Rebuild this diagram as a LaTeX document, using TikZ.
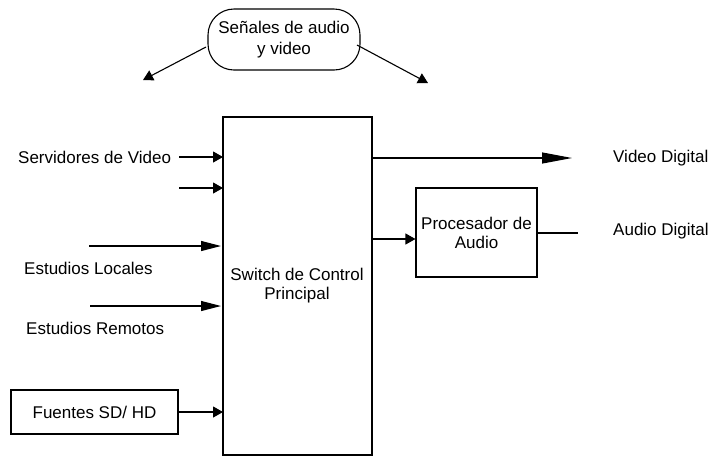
\documentclass[tikz,border=0pt]{standalone}
\usepackage{fontspec}
\setmainfont{Liberation Sans}
\usetikzlibrary{arrows.meta}
\begin{document}
\begin{tikzpicture}[x=1pt,y=-1pt,
  txt/.style={font=\fontsize{17}{19}\selectfont, inner sep=0pt, align=center},
  blk/.style={draw, line width=1.1pt, inner sep=0pt, font=\fontsize{17}{19}\selectfont, align=center},
  ln/.style={line width=1.1pt},
  tipS/.style={-{Triangle[length=10pt,width=11pt]}},
  tipM/.style={-{Triangle[length=20pt,width=10pt]}},
  tipL/.style={-{Triangle[length=30pt,width=11pt]}}]
\useasboundingbox (0,0) rectangle (709,459);
% main switch
\node[blk, minimum width=149pt, minimum height=338pt] (sw) at (297.5,286) {};
\node[txt] (swt) at (297,286) {Switch de Control\\Principal};
% top rounded box
\node[blk, rounded corners=26pt, minimum width=152pt, minimum height=61pt, font=\fontsize{17}{21}\selectfont] (sig) at (284,39.5) {Señales de audio\\y video};
\coordinate (sigL) at (143,80);
\coordinate (sigR) at (428,83);
\draw[ln,tipS] (206,47) -- (sigL);
\draw[ln,tipS] (357,45) -- (sigR);
% left inputs
\node[txt, anchor=west] (serv) at (18,157) {Servidores de Video};
\draw[ln,tipS] (179,157) -- (223,157);
\coordinate (in2) at (179,188);
\draw[ln,tipS] (in2) -- (223,188);
\coordinate (in3) at (89,246);
\draw[ln,tipM] (in3) -- (221,246);
\node[txt, anchor=west] (loc) at (24,268) {Estudios Locales};
\coordinate (in4) at (90,306);
\draw[ln,tipM] (in4) -- (221,306);
\node[txt, anchor=west] (rem) at (26,328) {Estudios Remotos};
\node[blk, minimum width=167pt, minimum height=44pt] (fue) at (94.5,412) {Fuentes SD/ HD};
\draw[ln,tipS] (fue.east) -- (223,412);
% right
\node[blk, minimum width=121pt, minimum height=89pt] (proc) at (476.5,232.5) {Procesador de\\Audio};
\draw[ln,tipS] (372,239) -- (proc.west |- 0,239);
\coordinate (vidE) at (572,158);
\draw[ln,tipL] (372,158) -- (vidE);
\node[txt, anchor=west] (vid) at (613,158) {Video Digital};
\coordinate (audE) at (578,233);
\draw[ln] (proc.east |- 0,233) -- (audE);
\node[txt, anchor=west] (aud) at (613,231) {Audio Digital};
\end{tikzpicture}
\end{document}
